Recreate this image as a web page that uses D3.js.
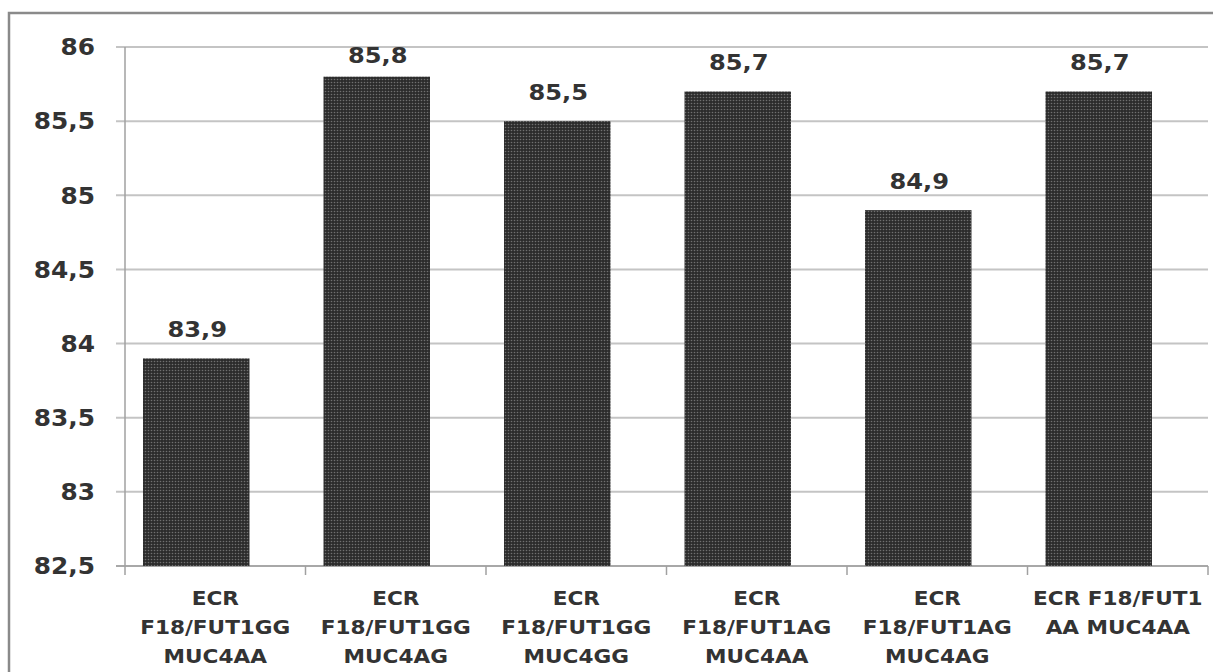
<!DOCTYPE html>
<html>
<head>
<meta charset="utf-8">
<script src="https://cdn.jsdelivr.net/npm/d3@7"></script>
<style>
  html, body { margin: 0; padding: 0; background: #fff; }
  svg { display: block; }
  text { font-family: "DejaVu Sans", Verdana, sans-serif; font-weight: bold; fill: #333; }
</style>
</head>
<body>
<svg id="chart"></svg>
<script>
// chart data
const categories = [
  ["ECR", "F18/FUT1GG", "MUC4AA"],
  ["ECR", "F18/FUT1GG", "MUC4AG"],
  ["ECR", "F18/FUT1GG", "MUC4GG"],
  ["ECR", "F18/FUT1AG", "MUC4AA"],
  ["ECR", "F18/FUT1AG", "MUC4AG"],
  ["ECR F18/FUT1", "AA MUC4AA"]
];
const values = [83.9, 85.8, 85.5, 85.7, 84.9, 85.7];
const yTicks = [82.5, 83, 83.5, 84, 84.5, 85, 85.5, 86];

const width = 1213, height = 672;
const plotLeft = 125, plotRight = 1208, plotTop = 47, plotBottom = 566;

const fmt = v => String(v).replace('.', ',');

const svg = d3.select("#chart").attr("width", width).attr("height", height);

// dotted dark fill like the original
const defs = svg.append("defs");
const pat = defs.append("pattern")
  .attr("id", "dots")
  .attr("width", 3).attr("height", 3)
  .attr("patternUnits", "userSpaceOnUse");
pat.append("rect").attr("width", 3).attr("height", 3).attr("fill", "#2c2c2c");
pat.append("circle").attr("cx", 1.5).attr("cy", 1.5).attr("r", 0.8).attr("fill", "#707070");

// outer frame (cut off on right / bottom)
svg.append("rect")
  .attr("x", 9).attr("y", 13)
  .attr("width", width + 20).attr("height", height + 20)
  .attr("fill", "none")
  .attr("stroke", "#8a8a8a")
  .attr("stroke-width", 2.5);

const x = d3.scaleBand()
  .domain(d3.range(categories.length))
  .range([plotLeft, plotRight]);

// bars sit a bit left of the band centre in the original
const xBar = d3.scaleBand()
  .domain(d3.range(categories.length))
  .range([plotLeft - 19, plotRight - 19])
  .paddingInner(0.41)
  .paddingOuter(0.205);

const y = d3.scaleLinear().domain([82.5, 86]).range([plotBottom, plotTop]);

// gridlines + y ticks
svg.append("g").selectAll("line")
  .data(yTicks)
  .enter().append("line")
  .attr("x1", plotLeft - 9).attr("x2", plotRight)
  .attr("y1", d => y(d)).attr("y2", d => y(d))
  .attr("stroke", d => d === 82.5 ? "#a8a8a8" : "#c4c4c4")
  .attr("stroke-width", 2);

// the original font is wider than DejaVu, so stretch glyphs a little
svg.append("g").selectAll("text")
  .data(yTicks)
  .enter().append("text")
  .attr("transform", d => `translate(95,${y(d)}) scale(1.08,1)`)
  .attr("dy", "0.36em")
  .attr("text-anchor", "end")
  .style("font-size", "23px")
  .text(fmt);

// y axis line
svg.append("line")
  .attr("x1", plotLeft).attr("x2", plotLeft)
  .attr("y1", plotTop).attr("y2", plotBottom)
  .attr("stroke", "#a0a0a0").attr("stroke-width", 1.5);

// category ticks
svg.append("g").selectAll("line")
  .data(d3.range(categories.length + 1))
  .enter().append("line")
  .attr("x1", i => plotLeft + i * x.step()).attr("x2", i => plotLeft + i * x.step())
  .attr("y1", plotBottom).attr("y2", plotBottom + 9)
  .attr("stroke", "#a0a0a0").attr("stroke-width", 1.5);

// bars
svg.append("g").selectAll("rect")
  .data(values)
  .enter().append("rect")
  .attr("x", (d, i) => xBar(i))
  .attr("width", xBar.bandwidth())
  .attr("y", d => y(d))
  .attr("height", d => y(82.5) - y(d))
  .attr("fill", "url(#dots)");

// value labels (kept inside the plot area at the top, like Excel does)
svg.append("g").selectAll("text")
  .data(values)
  .enter().append("text")
  .attr("transform", (d, i) =>
    `translate(${xBar(i) + xBar.bandwidth() / 2 + 1},${Math.max(y(d) - 21, plotTop + 16)}) scale(1.15,1)`)
  .attr("text-anchor", "middle")
  .style("font-size", "21px")
  .text(fmt);

// category labels
const cat = svg.append("g").selectAll("text")
  .data(categories)
  .enter().append("text")
  .attr("transform", (d, i) => `translate(${x(i) + x.bandwidth() / 2},605) scale(1.08,1)`)
  .attr("text-anchor", "middle")
  .style("font-size", "20px");
cat.each(function (lines) {
  d3.select(this).selectAll("tspan")
    .data(lines)
    .enter().append("tspan")
    .attr("x", 0)
    .attr("y", (l, j) => j * 29)
    .text(l => l);
});
</script>
</body>
</html>
